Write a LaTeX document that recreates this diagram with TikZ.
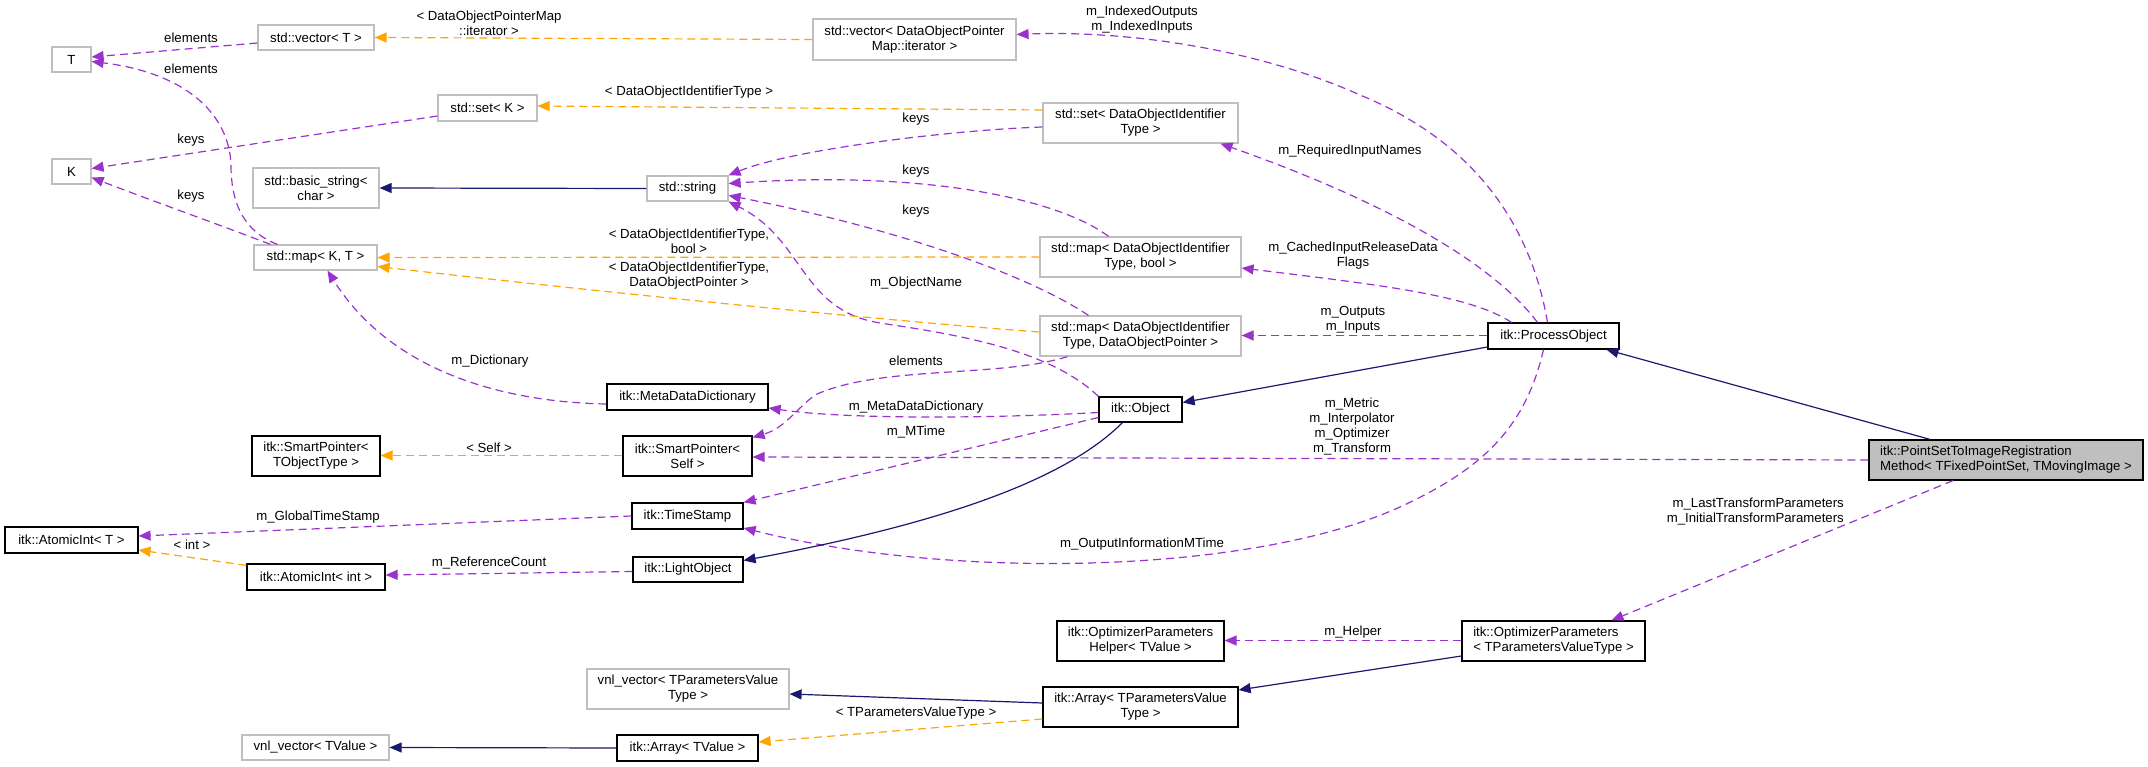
\documentclass[tikz,border=0pt]{standalone}
\usepackage{fontspec}
\setmainfont{Liberation Sans}
\usetikzlibrary{arrows.meta}
\definecolor{usepurple}{HTML}{9A32CD}
\definecolor{tplorange}{HTML}{FFA500}
\definecolor{inhblue}{HTML}{191970}
\definecolor{boxgray}{HTML}{BFBFBF}
\definecolor{mainfill}{HTML}{BFBFBF}
\begin{document}
\begin{tikzpicture}[x=1pt,y=-1pt,
  every node/.style={font=\fontsize{13.2}{15}\selectfont},
  nd/.style={inner sep=0pt, align=center, line width=1.2pt},
  gbox/.style={nd, draw=boxgray},
  bbox/.style={nd, draw=black},
  lbl/.style={inner sep=0pt, align=center},
  conn/.style={line width=1.2pt},
  use/.style={conn, draw=usepurple, dash pattern=on 8pt off 5pt, -{Triangle[length=12pt,width=10pt]}},
  tpl/.style={conn, draw=tplorange, dash pattern=on 8pt off 5pt, -{Triangle[length=12pt,width=10pt]}},
  inh/.style={conn, draw=inhblue, -{Triangle[length=12pt,width=10pt]}},
]
\useasboundingbox (0,0) rectangle (2148,767);

% ---------------- nodes ----------------
\node[gbox, minimum width=39pt, minimum height=25pt] (T) at (71.5,59.5) {T};
\node[gbox, minimum width=39pt, minimum height=25pt] (K) at (71.5,171.5) {K};
\node[gbox, minimum width=116pt, minimum height=25pt] (vecT) at (316,37.5) {std::vector< T >};
\node[gbox, minimum width=203pt, minimum height=41pt] (vecDOP) at (914.5,39.5) {std::vector< DataObjectPointer\\Map::iterator >};
\node[gbox, minimum width=99pt, minimum height=26pt] (setK) at (487.5,108) {std::set< K >};
\node[gbox, minimum width=195pt, minimum height=40pt] (setDOI) at (1140.5,123) {std::set< DataObjectIdentifier\\Type >};
\node[gbox, minimum width=126pt, minimum height=40pt] (bstr) at (316,188) {std::basic\_string<\\char >};
\node[gbox, minimum width=81pt, minimum height=25pt] (str) at (687.5,188.5) {std::string};
\node[gbox, minimum width=123pt, minimum height=25pt] (mapKT) at (315.5,257.5) {std::map< K, T >};
\node[gbox, minimum width=201pt, minimum height=40pt] (mapBool) at (1140.5,257) {std::map< DataObjectIdentifier\\Type, bool >};
\node[gbox, minimum width=201pt, minimum height=40pt] (mapDOP) at (1140.5,336) {std::map< DataObjectIdentifier\\Type, DataObjectPointer >};
\node[bbox, minimum width=131pt, minimum height=26pt] (po) at (1553.5,336) {itk::ProcessObject};
\node[bbox, minimum width=161pt, minimum height=26pt] (mdd) at (687.5,397) {itk::MetaDataDictionary};
\node[bbox, minimum width=83pt, minimum height=25pt] (obj) at (1140.5,409.5) {itk::Object};
\node[bbox, minimum width=128pt, minimum height=40pt] (spT) at (316,456) {itk::SmartPointer<\\TObjectType >};
\node[bbox, minimum width=129pt, minimum height=40pt] (spS) at (687.5,456) {itk::SmartPointer<\\Self >};
\node[bbox, fill=mainfill, minimum width=274pt, minimum height=40pt, align=left] (pstirm) at (2006,460) {itk::PointSetToImageRegistration\\Method< TFixedPointSet, TMovingImage >};
\node[bbox, minimum width=111pt, minimum height=26pt] (ts) at (687.5,516) {itk::TimeStamp};
\node[bbox, minimum width=133pt, minimum height=26pt] (aiT) at (71.5,540) {itk::AtomicInt< T >};
\node[bbox, minimum width=138pt, minimum height=26pt] (aiI) at (316,577) {itk::AtomicInt< int >};
\node[bbox, minimum width=110pt, minimum height=25pt] (lo) at (688,569.5) {itk::LightObject};
\node[bbox, minimum width=167pt, minimum height=40pt] (oph) at (1140.5,641) {itk::OptimizerParameters\\Helper< TValue >};
\node[bbox, minimum width=183pt, minimum height=40pt, align=left] (op) at (1553.5,641) {itk::OptimizerParameters\\< TParametersValueType >};
\node[gbox, minimum width=202pt, minimum height=40pt] (vnlP) at (688,689) {vnl\_vector< TParametersValue\\Type >};
\node[bbox, minimum width=195pt, minimum height=40pt] (arrP) at (1140.5,707) {itk::Array< TParametersValue\\Type >};
\node[gbox, minimum width=147pt, minimum height=25pt] (vnlV) at (315.5,747.5) {vnl\_vector< TValue >};
\node[bbox, minimum width=141pt, minimum height=26pt] (arrV) at (687.5,748) {itk::Array< TValue >};

% ---------------- usage edges (purple) ----------------
\draw[use] ([yshift=-5.5pt]vecT.west) -- ([yshift=2.5pt]T.east);
\draw[use] ([xshift=-38pt]mapKT.north) .. controls (245,232) and (231,205) .. (231,165)
           .. controls (229,110) and (180,72) .. ([yshift=-2pt]T.east);
\draw[use] ([yshift=-8pt]setK.west) -- ([yshift=3pt]K.east);
\draw[use] ([xshift=-45pt]mapKT.north) .. controls (220,225) and (150,200) .. ([yshift=-6pt]K.east);
\draw[use] ([yshift=-4pt]setDOI.west) .. controls (950,130) and (790,150) .. (str.north east);
\draw[use] ([xshift=-32pt]mapBool.north) .. controls (1060,200) and (930,170) .. ([yshift=5pt]str.east);
\draw[use] ([xshift=-52pt]mapDOP.north) .. controls (1020,270) and (880,225) .. ([yshift=-7pt]str.east);
\draw[use] (obj.north west) .. controls (1050,350) and (960,335) .. (880,323)
           .. controls (800,310) and (805,240) .. (str.south east);
\draw[use] ([xshift=-6pt]po.north) .. controls (1530,220) and (1470,140) .. (1360,95)
           .. controls (1260,50) and (1130,30) .. ([yshift=5pt]vecDOP.east);
\draw[use] ([xshift=-16pt]po.north) .. controls (1490,260) and (1380,200) .. ([xshift=80pt]setDOI.south);
\draw[use] ([xshift=-42pt]po.north) .. controls (1470,295) and (1380,285) .. ([yshift=-11pt]mapBool.east);
\draw[use] ([yshift=0.5pt]po.west) -- ([yshift=0.5pt]mapDOP.east);
\draw[use] ([xshift=-10pt]po.south) .. controls (1525,430) and (1480,470) .. (1400,507)
           .. controls (1250,575) and (950,580) .. ([yshift=-12pt]ts.east);
\draw[use] (pstirm.west) -- ([yshift=-1pt]spS.east);
\draw[use] ([xshift=-53pt]pstirm.south) -- ([xshift=58pt]op.north);
\draw[use] ([yshift=0.5pt]op.west) -- ([yshift=0.5pt]oph.east);
\draw[use] ([yshift=-3pt]obj.west) .. controls (1000,418) and (850,420) .. ([yshift=-11pt]mdd.east);
\draw[use] ([yshift=-8pt]obj.west) -- (ts.north east);
\draw[use] ([xshift=-73pt]mapDOP.south) .. controls (1000,378) and (880,365) .. (815,395)
           .. controls (795,410) and (785,428) .. ([yshift=-2pt]spS.north east);
\draw[use] ([yshift=-7pt]mdd.west) .. controls (500,402) and (390,370) .. ([xshift=12pt]mapKT.south);
\draw[use] (ts.west) -- ([yshift=4pt]aiT.east);
\draw[use] ([yshift=-2pt]lo.west) -- ([yshift=2pt]aiI.east);

% ---------------- template edges (orange) ----------------
\draw[tpl] (vecDOP.west) -- (vecT.east);
\draw[tpl] ([yshift=13pt]setDOI.west) -- ([yshift=2pt]setK.east);
\draw[tpl] (mapBool.west) -- (mapKT.east);
\draw[tpl] ([yshift=4pt]mapDOP.west) .. controls (900,322) and (600,292) .. ([yshift=-9pt]mapKT.east);
\draw[tpl] ([yshift=0.5pt]spS.west) -- ([yshift=0.5pt]spT.east);
\draw[tpl] ([yshift=-2pt]aiI.north west) -- ([yshift=-10pt]aiT.east);
\draw[tpl] ([yshift=-12pt]arrP.west) -- ([yshift=6pt]arrV.east);

% ---------------- inheritance edges (blue) ----------------
\draw[inh] (str.west) -- (bstr.east);
\draw[inh] ([yshift=-11pt]po.west) -- ([yshift=7pt]obj.east);
\draw[inh] ([xshift=-76pt]pstirm.north) -- ([xshift=53pt]po.south);
\draw[inh] ([xshift=-18pt]obj.south) .. controls (1070,475) and (960,520) .. ([yshift=9pt]lo.east);
\draw[inh] ([yshift=-15pt]op.west) -- ([yshift=17pt]arrP.east);
\draw[inh] ([yshift=4pt]arrP.west) -- ([yshift=-5pt]vnlP.east);
\draw[inh] (arrV.west) -- (vnlV.east);

% ---------------- edge labels ----------------
\node[lbl] (l1) at (191,38) {elements};
\node[lbl] (l2) at (191,69) {elements};
\node[lbl] (l3) at (191,140) {keys};
\node[lbl] (l4) at (191,196) {keys};
\node[lbl] (l5) at (489,23) {< DataObjectPointerMap\\::iterator >};
\node[lbl] (l6) at (689,92) {< DataObjectIdentifierType >};
\node[lbl] (l7) at (916,119) {keys};
\node[lbl] (l8) at (916,171) {keys};
\node[lbl] (l9) at (916,211) {keys};
\node[lbl] (l10) at (689,241) {< DataObjectIdentifierType,\\bool >};
\node[lbl] (l11) at (689,276) {< DataObjectIdentifierType,\\DataObjectPointer >};
\node[lbl] (l12) at (916,283) {m\_ObjectName};
\node[lbl] (l13) at (490,361) {m\_Dictionary};
\node[lbl] (l14) at (916,361) {elements};
\node[lbl] (l15) at (916,407) {m\_MetaDataDictionary};
\node[lbl] (l16) at (916,432) {m\_MTime};
\node[lbl] (l17) at (489,448) {< Self >};
\node[lbl] (l18) at (318,517) {m\_GlobalTimeStamp};
\node[lbl] (l19) at (192,545) {< int >};
\node[lbl] (l20) at (489,563) {m\_ReferenceCount};
\node[lbl] (l21) at (1142,544) {m\_OutputInformationMTime};
\node[lbl] (l22) at (1142,20) {m\_IndexedOutputs\\m\_IndexedInputs};
\node[lbl] (l23) at (1350,151) {m\_RequiredInputNames};
\node[lbl] (l24) at (1353,256) {m\_CachedInputReleaseData\\Flags};
\node[lbl] (l25) at (1353,320) {m\_Outputs\\m\_Inputs};
\node[lbl] (l26) at (1352,427) {m\_Metric\\m\_Interpolator\\m\_Optimizer\\m\_Transform};
\node[lbl, align=right, anchor=east] (l27) at (1844,512) {m\_LastTransformParameters\\m\_InitialTransformParameters};
\node[lbl] (l28) at (1353,632) {m\_Helper};
\node[lbl] (l29) at (916,713) {< TParametersValueType >};
\end{tikzpicture}
\end{document}
